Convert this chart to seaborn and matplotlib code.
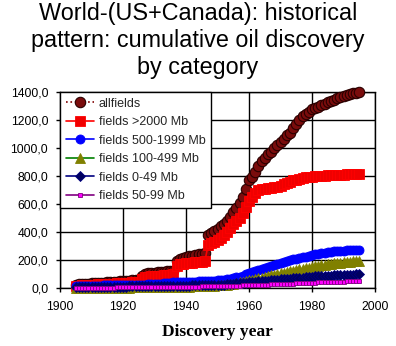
import numpy as np
import pandas as pd
import matplotlib
matplotlib.use("Agg")
import matplotlib.pyplot as plt
from matplotlib.ticker import FuncFormatter, MultipleLocator
import seaborn as sns

# Discovery years and cumulative discovered oil (Gb) per field-size category
years = list(range(1905, 1996))

allfields = [
    25, 27, 28, 30, 32, 35, 36, 37, 38, 39,
    40, 40, 41, 45, 48, 50, 52, 53, 55, 56,
    60, 85, 100, 105, 108, 110, 112, 114, 116, 118,
    120, 125, 190, 205, 215, 222, 228, 232, 236, 240,
    244, 250, 380, 395, 405, 420, 440, 460, 480, 510,
    540, 570, 610, 650, 710, 770, 790, 830, 870, 905,
    930, 955, 975, 1000, 1020, 1040, 1065, 1090, 1110, 1140,
    1170, 1200, 1225, 1245, 1260, 1275, 1285, 1295, 1305, 1315,
    1325, 1335, 1345, 1355, 1362, 1370, 1378, 1385, 1390, 1395,
    1400,
]
fields_2000 = [
    15, 17, 18, 20, 22, 24, 25, 26, 27, 28,
    29, 30, 31, 33, 35, 37, 38, 39, 40, 41,
    45, 65, 78, 82, 85, 87, 88, 89, 90, 92,
    94, 98, 160, 170, 175, 178, 180, 182, 184, 186,
    188, 192, 305, 318, 328, 342, 358, 378, 400, 430,
    455, 478, 500, 535, 580, 620, 650, 680, 700, 705,
    708, 712, 715, 718, 722, 730, 740, 750, 760, 768,
    775, 780, 785, 790, 793, 795, 797, 799, 801, 803,
    805, 806, 807, 808, 809, 810, 811, 811, 812, 812,
    812,
]
fields_500_1999 = [
    12, 13, 14, 15, 15, 16, 16, 17, 17, 18,
    18, 19, 19, 20, 20, 21, 21, 22, 22, 23,
    23, 24, 25, 26, 27, 28, 30, 32, 34, 36,
    38, 40, 40, 41, 42, 43, 44, 45, 46, 47,
    48, 49, 50, 51, 52, 54, 56, 59, 62, 66,
    70, 76, 82, 89, 97, 105, 113, 121, 129, 137,
    145, 153, 160, 167, 174, 180, 186, 192, 198, 204,
    210, 215, 220, 225, 230, 235, 240, 244, 248, 252,
    255, 258, 261, 263, 265, 267, 269, 270, 271, 272,
    272,
]
fields_100_499 = [
    0, 0, 0, 1, 1, 1, 1, 1, 2, 2,
    2, 2, 2, 3, 3, 3, 3, 3, 4, 4,
    4, 4, 5, 5, 5, 6, 6, 6, 7, 7,
    7, 8, 8, 9, 9, 10, 10, 11, 11, 12,
    13, 14, 15, 16, 17, 18, 20, 22, 25, 28,
    32, 36, 40, 45, 50, 55, 60, 65, 70, 75,
    80, 85, 90, 95, 100, 105, 110, 115, 120, 125,
    130, 134, 138, 142, 146, 150, 154, 158, 162, 166,
    170, 173, 176, 179, 182, 185, 187, 189, 191, 193,
    195,
]
fields_0_49 = [
    5, 5, 6, 6, 6, 7, 7, 7, 8, 8,
    8, 9, 9, 9, 10, 10, 10, 11, 11, 11,
    12, 12, 12, 13, 13, 13, 14, 14, 14, 15,
    15, 15, 16, 16, 16, 17, 17, 18, 18, 19,
    19, 20, 20, 21, 22, 23, 24, 25, 27, 29,
    31, 33, 35, 37, 39, 41, 43, 45, 47, 49,
    51, 53, 55, 57, 59, 61, 63, 65, 67, 69,
    71, 73, 75, 77, 79, 81, 83, 85, 86, 87,
    88, 89, 90, 91, 92, 93, 94, 95, 96, 97,
    98,
]
fields_50_99 = [
    1, 1, 1, 2, 2, 2, 2, 2, 3, 3,
    3, 3, 3, 4, 4, 4, 4, 4, 5, 5,
    5, 5, 5, 6, 6, 6, 6, 7, 7, 7,
    7, 8, 8, 8, 9, 9, 9, 10, 10, 10,
    11, 11, 11, 12, 12, 13, 13, 14, 14, 15,
    15, 16, 17, 18, 19, 20, 21, 22, 22, 23,
    24, 25, 26, 27, 28, 29, 30, 31, 31, 32,
    33, 34, 35, 36, 37, 38, 39, 40, 40, 41,
    42, 43, 44, 45, 45, 46, 47, 47, 48, 48,
    49,
]

labels = ["allfields", "fields >2000 Mb", "fields 500-1999 Mb",
          "fields 100-499 Mb", "fields 0-49 Mb", "fields 50-99 Mb"]
series = [allfields, fields_2000, fields_500_1999,
          fields_100_499, fields_0_49, fields_50_99]

styles = [
    dict(color="#800000", marker="o", markersize=7.5, markerfacecolor="#7a0c0c",
         markeredgecolor="#2a0000", markeredgewidth=0.8, linestyle=":"),
    dict(color="#ff0000", marker="s", markersize=7.5, markerfacecolor="#f00000",
         markeredgecolor="#ff0000", markeredgewidth=0.6, linestyle="-"),
    dict(color="#0000ff", marker="o", markersize=6.5, markerfacecolor="#0000ff",
         markeredgecolor="#0000ff", markeredgewidth=0.6, linestyle="-"),
    dict(color="#008000", marker="^", markersize=6.5, markerfacecolor="#808000",
         markeredgecolor="#808000", markeredgewidth=0.6, linestyle="-"),
    dict(color="#000080", marker="D", markersize=5.5, markerfacecolor="#000060",
         markeredgecolor="#000080", markeredgewidth=0.6, linestyle="-"),
    dict(color="#800080", marker="s", markersize=3, markerfacecolor="#ff00ff",
         markeredgecolor="#800080", markeredgewidth=0.6, linestyle="-"),
]

df = pd.DataFrame({"year": years})
for lab, vals in zip(labels, series):
    df[lab] = vals

sns.set_theme(style="white")
plt.rcParams["font.family"] = ["Liberation Sans", "DejaVu Sans"]

fig = plt.figure(figsize=(3.96, 3.46), dpi=100)
ax = fig.add_axes([60 / 396, 1 - 288 / 346, 315 / 396, 196 / 346])

for lab, st in zip(labels, styles):
    sns.lineplot(data=df, x="year", y=lab, ax=ax, label=lab, linewidth=1.2,
                 clip_on=False, zorder=3, **st)

ax.set_xlim(1900, 2000)
ax.set_ylim(0, 1400)
ax.xaxis.set_major_locator(MultipleLocator(20))
ax.yaxis.set_major_locator(MultipleLocator(200))
ax.yaxis.set_major_formatter(FuncFormatter(lambda v, p: f"{v:.1f}".replace(".", ",")))
ax.grid(True, color="black", linewidth=1.0)
ax.set_axisbelow(True)

for side in ["left", "bottom"]:
    ax.spines[side].set_color("black")
    ax.spines[side].set_linewidth(1.0)
for side in ["top", "right"]:
    ax.spines[side].set_color("black")
    ax.spines[side].set_linewidth(1.0)
    ax.spines[side].set_linestyle((0, (1, 1)))

ax.tick_params(axis="both", which="major", direction="out", length=3, width=1,
               color="black", labelsize=8.7, labelcolor="black",
               left=True, bottom=True)
ax.tick_params(axis="y", pad=5.5)
ax.tick_params(axis="x", pad=6)

ax.set_ylabel("")
ax.set_xlabel("Discovery year", fontfamily=["Liberation Serif"], fontweight="bold",
              fontsize=12.5, color="black", labelpad=8)

leg = ax.legend(loc="upper left", bbox_to_anchor=(0, 1), borderaxespad=0,
                fontsize=9, frameon=True, fancybox=False, framealpha=1,
                edgecolor="black", handlelength=2.3, handletextpad=0.35,
                labelspacing=0.52, borderpad=0.45)
leg.get_frame().set_linewidth(1.0)
leg.set_zorder(5)

fig.text(0.5, 0.993, "World-(US+Canada): historical\npattern: cumulative oil discovery\nby category",
         ha="center", va="top", fontsize=16.8, linespacing=1.2, color="black")

fig.savefig("out.png", dpi=100, facecolor="white")
